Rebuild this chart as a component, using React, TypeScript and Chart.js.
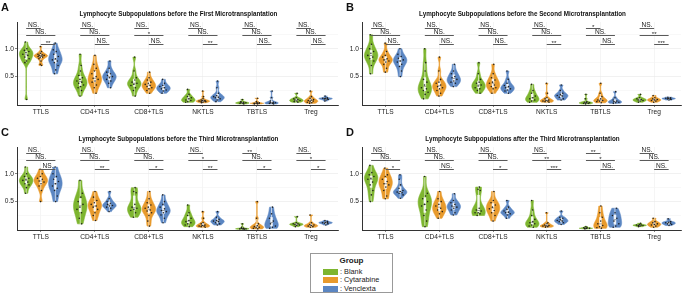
import React, { useEffect, useRef } from "react";
import { Chart, registerables } from "chart.js";
Chart.register(...registerables);

const CATEGORIES = ["TTLS", "CD4+TLS", "CD8+TLS", "NKTLS", "TBTLS", "Treg"];
const GROUPS = ["Blank", "Cytarabine", "Venclexta"];
const GROUP_COLORS = ["#7db52f", "#e89a2c", "#5b86c2"];
const GROUP_OFFSETS = [-0.27, 0, 0.27];
const Y_TICKS = [0.25, 0.5, 0.75, 1.0, 1.25];
const Y_LABELED = [0.5, 1.0];
const BRACKET_LEVELS = [1.38, 1.24, 1.09];
const BRACKET_PAIRS = [[0, 1], [0, 2], [1, 2]];

// ---------- Panel A: before the First Microtransplantation ----------
const A_TTLS = [
  [1.12, 1.0, 0.97, 0.95, 0.93, 0.9, 0.88, 0.85, 0.82, 0.78, 0.75, 0.09],
  [1.04, 0.95, 0.92, 0.9, 0.89, 0.88, 0.88, 0.87, 0.86, 0.85, 0.84, 0.82, 0.78, 0.72, 0.7],
  [1.1, 0.98, 0.95, 0.9, 0.86, 0.82, 0.8, 0.78, 0.75, 0.7, 0.62, 0.55],
];
const A_CD4 = [
  [0.9, 0.7, 0.6, 0.52, 0.48, 0.45, 0.42, 0.4, 0.38, 0.35, 0.32, 0.3, 0.25, 0.15],
  [0.88, 0.72, 0.65, 0.6, 0.55, 0.5, 0.47, 0.45, 0.42, 0.4, 0.35, 0.3, 0.2],
  [0.78, 0.65, 0.58, 0.55, 0.52, 0.5, 0.48, 0.45, 0.42, 0.38, 0.3],
];
const A_CD8 = [
  [0.85, 0.6, 0.48, 0.44, 0.4, 0.38, 0.36, 0.34, 0.3, 0.25, 0.15],
  [0.58, 0.48, 0.44, 0.4, 0.38, 0.36, 0.34, 0.32, 0.3, 0.28, 0.25, 0.2],
  [0.45, 0.38, 0.34, 0.32, 0.3, 0.28, 0.26, 0.24, 0.2],
];
const A_NK = [
  [0.27, 0.18, 0.14, 0.12, 0.1, 0.08, 0.07, 0.05, 0.04],
  [0.24, 0.14, 0.1, 0.08, 0.07, 0.07, 0.06, 0.06, 0.05, 0.05, 0.04, 0.03],
  [0.42, 0.3, 0.2, 0.16, 0.14, 0.13, 0.12, 0.1, 0.08, 0.05],
];
const A_TB = [
  [0.09, 0.05, 0.04, 0.03, 0.03, 0.02, 0.02, 0.01],
  [0.11, 0.05, 0.03, 0.03, 0.02, 0.02, 0.02, 0.01, 0.01],
  [0.24, 0.12, 0.06, 0.04, 0.03, 0.03, 0.02, 0.02, 0.01],
];
const A_TREG = [
  [0.2, 0.12, 0.1, 0.09, 0.08, 0.07, 0.06, 0.05, 0.04],
  [0.24, 0.14, 0.11, 0.09, 0.08, 0.07, 0.06, 0.05, 0.04, 0.03, 0.02],
  [0.15, 0.12, 0.11, 0.11, 0.1, 0.1, 0.09, 0.08, 0.06],
];
const A_SIG = [
  ["NS.", "NS.", "**"],
  ["NS.", "NS.", "NS."],
  ["NS.", "*", "NS."],
  ["NS.", "NS.", "**"],
  ["NS.", "NS.", "NS."],
  ["NS.", "NS.", "NS."],
];

// ---------- Panel B: before the Second Microtransplantation ----------
const B_TTLS = [
  [1.25, 1.08, 1.0, 0.95, 0.92, 0.88, 0.85, 0.82, 0.78, 0.7, 0.55],
  [1.1, 0.95, 0.88, 0.85, 0.82, 0.8, 0.78, 0.76, 0.72, 0.65, 0.58],
  [1.0, 0.9, 0.86, 0.83, 0.8, 0.78, 0.76, 0.72, 0.68, 0.6, 0.5],
];
const B_CD4 = [
  [1.0, 0.75, 0.6, 0.45, 0.4, 0.35, 0.3, 0.28, 0.25, 0.22, 0.18, 0.1],
  [0.85, 0.6, 0.45, 0.4, 0.38, 0.35, 0.32, 0.3, 0.28, 0.25, 0.2, 0.15],
  [0.72, 0.6, 0.55, 0.5, 0.48, 0.45, 0.42, 0.4, 0.38, 0.32],
];
const B_CD8 = [
  [0.75, 0.55, 0.45, 0.4, 0.38, 0.35, 0.33, 0.3, 0.28, 0.25, 0.2],
  [0.72, 0.55, 0.48, 0.44, 0.4, 0.38, 0.35, 0.32, 0.3, 0.28, 0.2],
  [0.6, 0.45, 0.38, 0.34, 0.32, 0.3, 0.28, 0.26, 0.24, 0.2],
];
const B_NK = [
  [0.36, 0.25, 0.2, 0.15, 0.12, 0.1, 0.08, 0.06, 0.04],
  [0.38, 0.2, 0.12, 0.1, 0.08, 0.07, 0.06, 0.06, 0.05, 0.04],
  [0.35, 0.25, 0.2, 0.18, 0.16, 0.15, 0.13, 0.1, 0.08],
];
const B_TB = [
  [0.18, 0.1, 0.05, 0.04, 0.03, 0.03, 0.02, 0.02, 0.01],
  [0.38, 0.2, 0.14, 0.1, 0.08, 0.07, 0.06, 0.05, 0.03],
  [0.23, 0.12, 0.08, 0.06, 0.05, 0.04, 0.03, 0.02],
];
const B_TREG = [
  [0.18, 0.12, 0.1, 0.09, 0.08, 0.07, 0.06, 0.04],
  [0.16, 0.12, 0.1, 0.09, 0.08, 0.07, 0.06, 0.04],
  [0.13, 0.12, 0.11, 0.11, 0.1, 0.1, 0.09, 0.08],
];
const B_SIG = [
  ["NS.", "NS.", "NS."],
  ["NS.", "NS.", "NS."],
  ["NS.", "NS.", "NS."],
  ["NS.", "NS.", "**"],
  ["*", "NS.", "NS."],
  ["NS.", "**", "***"],
];

// ---------- Panel C: before the Third Microtransplantation ----------
const C_TTLS = [
  [1.12, 1.0, 0.95, 0.92, 0.9, 0.88, 0.85, 0.82, 0.8, 0.75, 0.65],
  [1.08, 1.0, 0.95, 0.92, 0.9, 0.87, 0.85, 0.82, 0.78, 0.7, 0.5],
  [1.12, 1.0, 0.95, 0.9, 0.86, 0.82, 0.78, 0.74, 0.7, 0.6, 0.5],
];
const C_CD4 = [
  [0.88, 0.65, 0.58, 0.5, 0.45, 0.4, 0.36, 0.3, 0.2, 0.1],
  [0.68, 0.58, 0.52, 0.48, 0.45, 0.42, 0.4, 0.36, 0.3, 0.25, 0.16],
  [0.68, 0.55, 0.5, 0.47, 0.45, 0.43, 0.42, 0.4, 0.38, 0.32],
];
const C_CD8 = [
  [0.75, 0.68, 0.66, 0.45, 0.4, 0.38, 0.36, 0.34, 0.3, 0.22],
  [0.68, 0.55, 0.48, 0.44, 0.4, 0.38, 0.35, 0.33, 0.3, 0.25, 0.15, 0.06],
  [0.62, 0.5, 0.45, 0.4, 0.37, 0.34, 0.32, 0.3, 0.26, 0.2, 0.12],
];
const C_NK = [
  [0.44, 0.3, 0.25, 0.2, 0.16, 0.14, 0.12, 0.1, 0.08, 0.05],
  [0.32, 0.2, 0.12, 0.1, 0.08, 0.07, 0.06, 0.06, 0.05, 0.04],
  [0.32, 0.22, 0.18, 0.16, 0.15, 0.14, 0.12, 0.1, 0.08],
];
const C_TB = [
  [0.1, 0.04, 0.02, 0.02, 0.01, 0.01, 0.01, 0.005],
  [0.5, 0.2, 0.1, 0.07, 0.05, 0.04, 0.03, 0.02, 0.01],
  [0.4, 0.28, 0.2, 0.15, 0.1, 0.06, 0.04, 0.02],
];
const C_TREG = [
  [0.23, 0.12, 0.1, 0.1, 0.09, 0.08, 0.07, 0.05],
  [0.26, 0.12, 0.09, 0.08, 0.07, 0.06, 0.05, 0.04],
  [0.16, 0.14, 0.13, 0.12, 0.12, 0.11, 0.1, 0.08],
];
const C_SIG = [
  ["NS.", "NS.", "NS."],
  ["NS.", "NS.", "**"],
  ["NS.", "NS.", "*"],
  ["NS.", "*", "**"],
  ["**", "NS.", "*"],
  ["NS.", "*", "*"],
];

// ---------- Panel D: after the Third Microtransplantation ----------
const D_TTLS = [
  [1.15, 1.02, 0.98, 0.95, 0.92, 0.9, 0.85, 0.8, 0.7, 0.62, 0.5],
  [1.1, 0.98, 0.95, 0.9, 0.86, 0.82, 0.8, 0.76, 0.7, 0.6, 0.55],
  [0.98, 0.9, 0.8, 0.74, 0.7, 0.68, 0.67, 0.66, 0.65, 0.62, 0.56],
];
const D_CD4 = [
  [0.95, 0.65, 0.6, 0.55, 0.5, 0.45, 0.42, 0.35, 0.25, 0.15, 0.05],
  [0.68, 0.55, 0.5, 0.45, 0.42, 0.38, 0.35, 0.32, 0.28, 0.2],
  [0.64, 0.52, 0.48, 0.45, 0.42, 0.4, 0.38, 0.35, 0.3, 0.26],
];
const D_CD8 = [
  [0.76, 0.72, 0.7, 0.38, 0.35, 0.33, 0.3, 0.3, 0.28, 0.25],
  [0.68, 0.52, 0.48, 0.44, 0.4, 0.37, 0.34, 0.3, 0.25, 0.15],
  [0.52, 0.4, 0.36, 0.33, 0.31, 0.3, 0.28, 0.26, 0.2],
];
const D_NK = [
  [0.52, 0.35, 0.25, 0.18, 0.14, 0.12, 0.1, 0.08, 0.06, 0.04],
  [0.3, 0.12, 0.1, 0.08, 0.07, 0.06, 0.06, 0.05, 0.04],
  [0.33, 0.22, 0.2, 0.18, 0.16, 0.15, 0.14, 0.12, 0.09],
];
const D_TB = [
  [0.05, 0.03, 0.03, 0.02, 0.02, 0.02, 0.01],
  [0.42, 0.3, 0.22, 0.15, 0.1, 0.07, 0.05, 0.03, 0.02],
  [0.38, 0.3, 0.25, 0.2, 0.15, 0.1, 0.06, 0.04],
];
const D_TREG = [
  [0.11, 0.09, 0.08, 0.08, 0.07, 0.07, 0.06, 0.05],
  [0.2, 0.14, 0.12, 0.1, 0.09, 0.08, 0.06, 0.04],
  [0.19, 0.14, 0.13, 0.12, 0.11, 0.1, 0.09, 0.07],
];
const D_SIG = [
  ["NS.", "NS.", "*"],
  ["NS.", "NS.", "NS."],
  ["NS.", "NS.", "*"],
  ["NS.", "**", "***"],
  ["**", "*", "NS."],
  ["NS.", "NS.", "NS."],
];

const PANELS = [
  { letter: "A", title: "Lymphocyte Subpopulations before the First Microtransplantation", values: [A_TTLS, A_CD4, A_CD8, A_NK, A_TB, A_TREG], sig: A_SIG, left: 0, top: 0, width: 342 },
  { letter: "B", title: "Lymphocyte Subpopulations before the Second Microtransplantation", values: [B_TTLS, B_CD4, B_CD8, B_NK, B_TB, B_TREG], sig: B_SIG, left: 345, top: 0, width: 340 },
  { letter: "C", title: "Lymphocyte Subpopulations before the Third Microtransplantation", values: [C_TTLS, C_CD4, C_CD8, C_NK, C_TB, C_TREG], sig: C_SIG, left: 0, top: 125, width: 342 },
  { letter: "D", title: "Lymphocyte Subpopulations after the Third Microtransplantation", values: [D_TTLS, D_CD4, D_CD8, D_NK, D_TB, D_TREG], sig: D_SIG, left: 345, top: 125, width: 340 },
];

const PANEL_H = 122;
const AREA_TOP = 22;
const YAXIS_W = 17;
const XAXIS_H = 17;
const VIOLIN_HALF = 0.125; // category units
const FONT = "'Liberation Sans', Arial, Helvetica, sans-serif";

function quantile(sorted: number[], p: number) {
  const h = (sorted.length - 1) * p;
  const lo = Math.floor(h);
  const hi = Math.ceil(h);
  return sorted[lo] + (sorted[hi] - sorted[lo]) * (h - lo);
}

function bwNrd0(x: number[]) {
  const n = x.length;
  const mean = x.reduce((a, b) => a + b, 0) / n;
  const sd = Math.sqrt(x.reduce((a, b) => a + (b - mean) ** 2, 0) / (n - 1));
  const s = [...x].sort((a, b) => a - b);
  const iqr = quantile(s, 0.75) - quantile(s, 0.25);
  let lo = Math.min(sd, iqr / 1.34);
  if (!(lo > 0)) lo = sd || 0.01;
  return 0.9 * lo * Math.pow(n, -0.2);
}

function makeDensity(vals: number[]) {
  const bw = bwNrd0(vals);
  const f = (y: number) => vals.reduce((a, v) => a + Math.exp(-0.5 * ((y - v) / bw) ** 2), 0);
  const min = Math.min(...vals);
  const max = Math.max(...vals);
  const N = 60;
  const pts: { y: number; d: number }[] = [];
  for (let i = 0; i <= N; i++) {
    const y = min + ((max - min) * i) / N;
    pts.push({ y, d: f(y) });
  }
  const dmax = Math.max(...pts.map((p) => p.d));
  return { pts: pts.map((p) => ({ y: p.y, w: p.d / dmax })), rel: (y: number) => f(y) / dmax };
}

function frac(x: number) {
  return x - Math.floor(x);
}

function makePlugin(panel: any) {
  return {
    id: "violins_" + panel.letter,
    beforeDatasetsDraw(chart: any) {
      const { ctx } = chart;
      const xs = chart.scales.x;
      const ys = chart.scales.y;
      const unit = xs.getPixelForValue(1) - xs.getPixelForValue(0);
      panel.values.forEach((cat: number[][], c: number) =>
        cat.forEach((vals: number[], g: number) => {
          const dens = makeDensity(vals);
          const cx = xs.getPixelForValue(c + 1 + GROUP_OFFSETS[g]);
          const half = VIOLIN_HALF * unit;
          ctx.save();
          ctx.beginPath();
          dens.pts.forEach((p, i) => {
            const x = cx + Math.max(p.w * half, 0.3);
            const y = ys.getPixelForValue(p.y);
            if (i === 0) ctx.moveTo(x, y);
            else ctx.lineTo(x, y);
          });
          for (let i = dens.pts.length - 1; i >= 0; i--) {
            const p = dens.pts[i];
            ctx.lineTo(cx - Math.max(p.w * half, 0.3), ys.getPixelForValue(p.y));
          }
          ctx.closePath();
          ctx.fillStyle = GROUP_COLORS[g];
          ctx.fill();
          ctx.strokeStyle = GROUP_COLORS[g];
          ctx.lineWidth = 0.6;
          ctx.stroke();
          // boxplot
          const s = [...vals].sort((a, b) => a - b);
          const q1 = quantile(s, 0.25);
          const q3 = quantile(s, 0.75);
          const med = quantile(s, 0.5);
          const iqr = q3 - q1;
          const wLo = s.find((v) => v >= q1 - 1.5 * iqr) as number;
          const wHi = [...s].reverse().find((v) => v <= q3 + 1.5 * iqr) as number;
          ctx.strokeStyle = "rgba(255,255,255,0.9)";
          ctx.lineWidth = 0.7;
          ctx.beginPath();
          ctx.moveTo(cx, ys.getPixelForValue(wLo));
          ctx.lineTo(cx, ys.getPixelForValue(wHi));
          ctx.stroke();
          const yq1 = ys.getPixelForValue(q1);
          const yq3 = ys.getPixelForValue(q3);
          ctx.fillStyle = "rgba(255,255,255,0.85)";
          ctx.fillRect(cx - 1.3, yq3, 2.6, Math.max(yq1 - yq3, 0.6));
          ctx.strokeStyle = "#444";
          ctx.lineWidth = 0.5;
          ctx.beginPath();
          ctx.moveTo(cx - 1.3, ys.getPixelForValue(med));
          ctx.lineTo(cx + 1.3, ys.getPixelForValue(med));
          ctx.stroke();
          ctx.restore();
        })
      );
    },
    afterDatasetsDraw(chart: any) {
      const { ctx } = chart;
      const xs = chart.scales.x;
      const ys = chart.scales.y;
      ctx.save();
      panel.sig.forEach((labels: string[], c: number) => {
        BRACKET_PAIRS.forEach((pair, k) => {
          const x1 = xs.getPixelForValue(c + 1 + GROUP_OFFSETS[pair[0]]);
          const x2 = xs.getPixelForValue(c + 1 + GROUP_OFFSETS[pair[1]]);
          const y = Math.round(ys.getPixelForValue(BRACKET_LEVELS[k])) + 0.5;
          ctx.strokeStyle = "#5a5a5a";
          ctx.lineWidth = 1;
          ctx.beginPath();
          ctx.moveTo(x1, y);
          ctx.lineTo(x2, y);
          ctx.stroke();
          ctx.fillStyle = "#1a1a1a";
          ctx.font = `${labels[k] === "NS." ? 6.6 : 6.2}px ${FONT}`;
          ctx.textAlign = "center";
          ctx.textBaseline = "alphabetic";
          ctx.fillText(labels[k], (x1 + x2) / 2, labels[k] === "NS." ? y - 1.2 : y + 0.6);
        });
      });
      ctx.restore();
    },
  };
}

function Panel({ panel }: { panel: any }) {
  const ref = useRef<HTMLCanvasElement>(null);
  useEffect(() => {
    if (!ref.current) return;
    const datasets = GROUPS.map((name, g) => {
      const data: { x: number; y: number }[] = [];
      panel.values.forEach((cat: number[][], c: number) => {
        const vals = cat[g];
        const dens = makeDensity(vals);
        vals.forEach((v, i) => {
          const j = (frac(i * 0.6180339 + c * 0.37 + g * 0.21) - 0.5) * 2 * 0.075 * dens.rel(v);
          data.push({ x: c + 1 + GROUP_OFFSETS[g] + j, y: v });
        });
      });
      return {
        label: name,
        data,
        pointRadius: 0.8,
        pointBackgroundColor: "rgba(20,20,20,0.9)",
        pointBorderWidth: 0,
        showLine: false,
      };
    });
    const catTicks = CATEGORIES.map((_, i) => i + 1);
    const chart = new Chart(ref.current, {
      type: "scatter",
      data: { datasets },
      options: {
        animation: false,
        responsive: false,
        devicePixelRatio: 1,
        events: [],
        layout: { padding: { top: AREA_TOP, right: 2, left: 0, bottom: 0 } },
        plugins: { legend: { display: false }, tooltip: { enabled: false }, title: { display: false } },
        scales: {
          x: {
            type: "linear",
            min: 0.56,
            max: 6.5,
            afterBuildTicks: (scale: any) => {
              scale.ticks = catTicks.map((v) => ({ value: v }));
            },
            afterFit: (scale: any) => {
              scale.height = XAXIS_H;
            },
            ticks: {
              autoSkip: false,
              maxRotation: 0,
              padding: 1,
              color: "#1a1a1a",
              font: { size: 6.6, family: FONT },
              callback: (v: any) => CATEGORIES[Math.round(v) - 1] ?? "",
            },
            grid: { color: "#efefef", lineWidth: 0.6, tickLength: 2, tickColor: "#333" },
            border: { display: true, color: "#333", width: 1 },
          },
          y: {
            type: "linear",
            min: -0.01,
            max: 1.48,
            afterBuildTicks: (scale: any) => {
              scale.ticks = Y_TICKS.map((v) => ({ value: v }));
            },
            afterFit: (scale: any) => {
              scale.width = YAXIS_W;
            },
            ticks: {
              padding: 1,
              color: "#1a1a1a",
              font: { size: 6.6, family: FONT },
              callback: (v: any) => (Y_LABELED.includes(v) ? Number(v).toFixed(1) : ""),
            },
            grid: {
              color: (ctx: any) => (Y_LABELED.includes(ctx.tick?.value) ? "#e8e8e8" : "#f3f3f3"),
              lineWidth: 0.6,
              tickLength: 2,
              tickColor: (ctx: any) => (Y_LABELED.includes(ctx.tick?.value) ? "#333" : "rgba(0,0,0,0)"),
            },
            border: { display: true, color: "#333", width: 1 },
          },
        },
      },
      plugins: [makePlugin(panel)],
    } as any);
    return () => chart.destroy();
  }, [panel]);
  const areaLeft = YAXIS_W;
  const areaRight = panel.width - 2;
  return (
    <div style={{ position: "absolute", left: panel.left, top: panel.top, width: panel.width, height: PANEL_H }}>
      <canvas ref={ref} width={panel.width} height={PANEL_H} style={{ position: "absolute", left: 0, top: 0 }} />
      <div style={{ position: "absolute", left: 1, top: 1, fontFamily: FONT, fontWeight: "bold", fontSize: 11, lineHeight: "13px", color: "#111" }}>
        {panel.letter}
      </div>
      <div
        style={{
          position: "absolute",
          left: areaLeft,
          width: areaRight - areaLeft,
          top: 10,
          textAlign: "center",
          fontFamily: FONT,
          fontWeight: "bold",
          fontSize: 6.3,
          lineHeight: "8px",
          color: "#111",
          whiteSpace: "nowrap",
        }}
      >
        {panel.title}
      </div>
    </div>
  );
}

function Legend() {
  return (
    <div
      style={{
        position: "absolute",
        left: 310,
        top: 253,
        width: 81,
        height: 38,
        border: "1px solid #999",
        fontFamily: FONT,
        color: "#222",
        background: "#fff",
      }}
    >
      <div style={{ position: "absolute", left: 0, width: 81, top: 2, textAlign: "center", fontWeight: "bold", fontSize: 8, lineHeight: "9px" }}>Group</div>
      {GROUPS.map((g, i) => (
        <div key={g} style={{ position: "absolute", left: 12, top: 13.5 + i * 8.8, height: 8, display: "flex", alignItems: "center" }}>
          <div style={{ width: 15, height: 6, background: GROUP_COLORS[i], marginRight: 2 }} />
          <span style={{ fontSize: 7.3, lineHeight: "8px", whiteSpace: "nowrap" }}>: {g}</span>
        </div>
      ))}
    </div>
  );
}

export default function App() {
  return (
    <div style={{ position: "absolute", left: 0, top: 0, width: 685, height: 296, background: "#fff", overflow: "hidden" }}>
      {PANELS.map((p) => (
        <Panel key={p.letter} panel={p} />
      ))}
      <Legend />
    </div>
  );
}
